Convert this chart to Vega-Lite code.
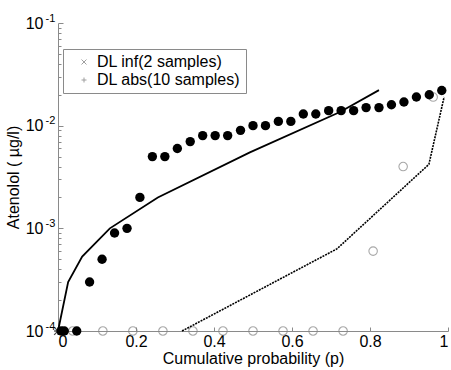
{
  "$schema": "https://vega.github.io/schema/vega-lite/v6.json",
  "width": 390,
  "height": 308,
  "autosize": {"type": "none"},
  "padding": {"left": 58, "top": 23, "right": 3, "bottom": 39},
  "background": "white",
  "config": {
    "view": {"stroke": null},
    "font": "Liberation Sans",
    "axis": {"grid": false, "domainColor": "#8a8a8a", "tickColor": "#8a8a8a", "labelColor": "black", "titleColor": "black", "labelFontSize": 16, "titleFontSize": 16, "titleFontWeight": "normal", "labelFont": "Liberation Sans", "titleFont": "Liberation Sans"}
  },
  "resolve": {"axis": {"y": "independent"}},
  "layer": [
    {
      "data": {"values": [
        {"p": 0.038, "c": 0.0001}, {"p": 0.115, "c": 0.0001}, {"p": 0.192, "c": 0.0001}, {"p": 0.269, "c": 0.0001}, {"p": 0.346, "c": 0.0001},
        {"p": 0.423, "c": 0.0001}, {"p": 0.5, "c": 0.0001}, {"p": 0.577, "c": 0.0001}, {"p": 0.654, "c": 0.0001}, {"p": 0.731, "c": 0.0001},
        {"p": 0.808, "c": 0.0006}, {"p": 0.885, "c": 0.004}, {"p": 0.962, "c": 0.019}
      ]},
      "mark": {"type": "point", "shape": "circle", "filled": false, "stroke": "#858585", "strokeWidth": 1.1, "size": 72},
      "encoding": {
        "x": {"field": "p", "type": "quantitative", "scale": {"domain": [0, 1], "nice": false},
          "axis": {"values": [0, 0.2, 0.4, 0.6, 0.8, 1], "labelExpr": "datum.value == 0 ? '0' : datum.value == 1 ? '1' : format(datum.value, '.1f')", "tickSize": -4, "labelPadding": 6, "title": "Cumulative probability (p)", "titlePadding": 1}},
        "y": {"field": "c", "type": "quantitative", "scale": {"type": "log", "domain": [0.0001, 0.1], "nice": false},
          "axis": {"orient": "left", "values": [0.0001, 0.0002, 0.0003, 0.0004, 0.0005, 0.0006, 0.0007, 0.0008, 0.0009, 0.001, 0.002, 0.003, 0.004, 0.005, 0.006, 0.007, 0.008, 0.009, 0.01, 0.02, 0.03, 0.04, 0.05, 0.06, 0.07, 0.08, 0.09, 0.1],
            "labelExpr": "abs(log(datum.value)/LN10 - round(log(datum.value)/LN10)) < 0.001 ? '10' : ''",
            "tickSize": {"condition": {"test": "abs(log(datum.value)/LN10 - round(log(datum.value)/LN10)) < 0.001", "value": -5}, "value": -3},
            "labelPadding": 20, "title": "Atenolol ( µg/l)", "titlePadding": 4}}
      }
    },
    {
      "data": {"values": [
        {"p": 0.008, "c": 0.0001}, {"p": 0.016, "c": 0.0001}, {"p": 0.048, "c": 0.0001}, {"p": 0.081, "c": 0.0003}, {"p": 0.113, "c": 0.0005},
        {"p": 0.145, "c": 0.0009}, {"p": 0.177, "c": 0.001}, {"p": 0.21, "c": 0.002}, {"p": 0.242, "c": 0.005}, {"p": 0.274, "c": 0.005},
        {"p": 0.306, "c": 0.006}, {"p": 0.339, "c": 0.007}, {"p": 0.371, "c": 0.008}, {"p": 0.403, "c": 0.008}, {"p": 0.435, "c": 0.008},
        {"p": 0.468, "c": 0.009}, {"p": 0.5, "c": 0.01}, {"p": 0.532, "c": 0.01}, {"p": 0.565, "c": 0.011}, {"p": 0.597, "c": 0.011},
        {"p": 0.629, "c": 0.013}, {"p": 0.661, "c": 0.013}, {"p": 0.694, "c": 0.014}, {"p": 0.726, "c": 0.014}, {"p": 0.758, "c": 0.014},
        {"p": 0.79, "c": 0.015}, {"p": 0.823, "c": 0.015}, {"p": 0.855, "c": 0.016}, {"p": 0.887, "c": 0.017}, {"p": 0.919, "c": 0.019},
        {"p": 0.952, "c": 0.02}, {"p": 0.984, "c": 0.022}
      ]},
      "mark": {"type": "circle", "color": "black", "opacity": 1, "size": 88},
      "encoding": {
        "x": {"field": "p", "type": "quantitative"},
        "y": {"field": "c", "type": "quantitative",
          "axis": {"orient": "left", "values": [0.0001, 0.001, 0.01, 0.1], "labelExpr": "'-' + format(-round(log(datum.value)/LN10), 'd')",
            "ticks": false, "tickSize": 0, "domain": false, "labelAlign": "left", "labelPadding": 13, "labelFontSize": 11, "labelOffset": -5, "title": null}}
      }
    },
    {
      "data": {"values": [
        {"p": 0.0, "c": 0.0001}, {"p": 0.026, "c": 0.0003}, {"p": 0.062, "c": 0.00053}, {"p": 0.133, "c": 0.001},
        {"p": 0.256, "c": 0.002}, {"p": 0.492, "c": 0.0055}, {"p": 0.723, "c": 0.0136}, {"p": 0.823, "c": 0.0222}
      ]},
      "mark": {"type": "line", "color": "black", "strokeWidth": 1.8},
      "encoding": {
        "x": {"field": "p", "type": "quantitative"},
        "y": {"field": "c", "type": "quantitative", "axis": null}
      }
    },
    {
      "data": {"values": [
        {"p": 0.318, "c": 0.0001}, {"p": 0.715, "c": 0.00063}, {"p": 0.951, "c": 0.0042}, {"p": 0.99, "c": 0.019}
      ]},
      "mark": {"type": "line", "color": "black", "strokeWidth": 1.6, "strokeDash": [2, 1]},
      "encoding": {
        "x": {"field": "p", "type": "quantitative"},
        "y": {"field": "c", "type": "quantitative", "axis": null}
      }
    },
    {
      "data": {"values": [
        {"p": 0, "c": 0.0001, "label": "DL inf(2 samples)"},
        {"p": 0, "c": 0.0001, "label": "DL abs(10 samples)"}
      ]},
      "mark": {"type": "point", "filled": false, "stroke": "black", "strokeWidth": 1.3, "size": 60},
      "encoding": {
        "x": {"field": "p", "type": "quantitative"},
        "y": {"field": "c", "type": "quantitative", "axis": null},
        "shape": {"field": "label", "type": "nominal",
          "scale": {"domain": ["DL inf(2 samples)", "DL abs(10 samples)"], "range": ["M-1,-1L1,1M-1,1L1,-1", "M0,-1L0,1M-1,0L1,0"]},
          "legend": {"title": null, "orient": "none", "legendX": 5, "legendY": 26, "strokeColor": "#8a8a8a", "fillColor": "white", "padding": 5,
            "labelFontSize": 16, "labelFont": "Liberation Sans", "labelColor": "black", "symbolSize": 25, "symbolStrokeColor": "#777", "symbolStrokeWidth": 1,
            "symbolOffset": 8, "labelOffset": 5, "rowPadding": 2, "cornerRadius": 0}}
      }
    }
  ]
}
